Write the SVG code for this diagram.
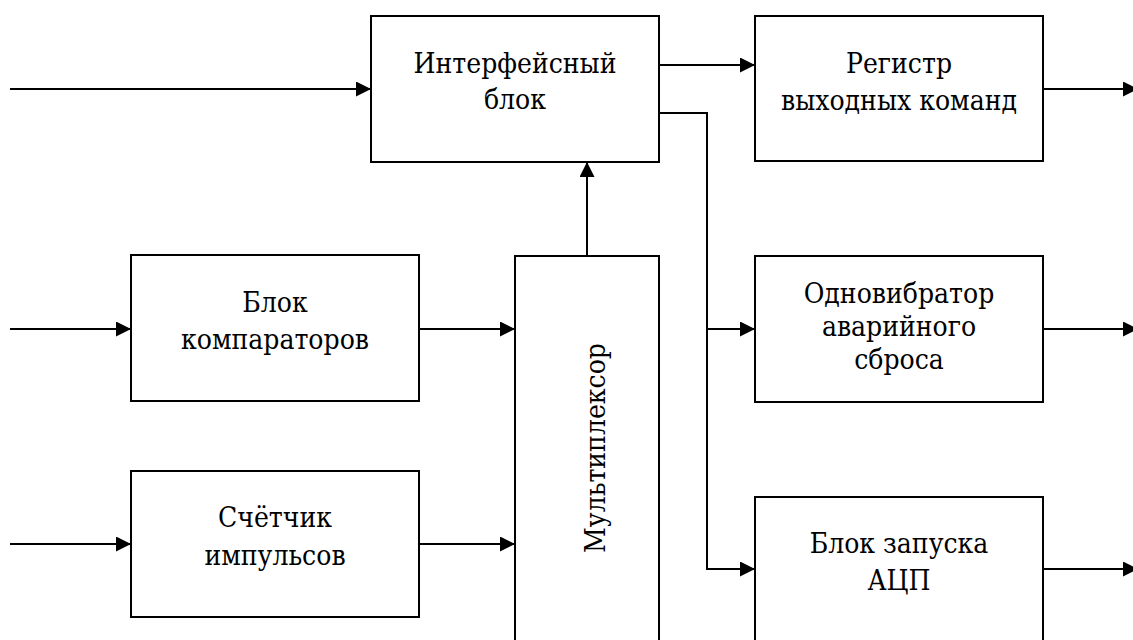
<svg xmlns="http://www.w3.org/2000/svg" width="1133" height="640" viewBox="0 0 1133 640">
<style>
.box{fill:#fff;stroke:#000;stroke-width:2}
.wire{fill:none;stroke:#000;stroke-width:2}
.lbl{font-family:'DejaVu Serif Condensed','DejaVu Serif',serif;font-stretch:condensed;font-size:28px;fill:#000;text-anchor:middle}
</style>
<defs>
<marker id="ah" markerUnits="userSpaceOnUse" markerWidth="15" markerHeight="15" refX="15" refY="7.5" orient="auto">
<path d="M0,0 L15,7.5 L0,15 z" fill="#000"/>
</marker>
</defs>
<rect width="1133" height="640" fill="#fff"/>
<g id="connectors">
<path class="wire" d="M10,89 H371" marker-end="url(#ah)"/>
<path class="wire" d="M659,65 H755" marker-end="url(#ah)"/>
<path class="wire" d="M1043,89 H1138" marker-end="url(#ah)"/>
<path class="wire" d="M659,113 H707 V569 H755" marker-end="url(#ah)"/>
<path class="wire" d="M707,329 H755" marker-end="url(#ah)"/>
<path class="wire" d="M1043,329 H1138" marker-end="url(#ah)"/>
<path class="wire" d="M1043,569 H1138" marker-end="url(#ah)"/>
<path class="wire" d="M10,329 H131" marker-end="url(#ah)"/>
<path class="wire" d="M419,329 H515" marker-end="url(#ah)"/>
<path class="wire" d="M10,544 H131" marker-end="url(#ah)"/>
<path class="wire" d="M419,544 H515" marker-end="url(#ah)"/>
<path class="wire" d="M587,256 V162" marker-end="url(#ah)"/>
</g>
<g id="interface">
<rect class="box" x="371" y="16" width="288" height="146"/>
<text class="lbl" x="515" y="73">Интерфейсный</text>
<text class="lbl" x="515" y="109">блок</text>
</g>
<g id="register">
<rect class="box" x="755" y="16" width="288" height="145"/>
<text class="lbl" x="899" y="73">Регистр</text>
<text class="lbl" x="899" y="110">выходных команд</text>
</g>
<g id="comparators">
<rect class="box" x="131" y="255" width="288" height="146"/>
<text class="lbl" x="275" y="312">Блок</text>
<text class="lbl" x="275" y="349">компараторов</text>
</g>
<g id="counter">
<rect class="box" x="131" y="471" width="288" height="146"/>
<text class="lbl" x="275" y="527">Счётчик</text>
<text class="lbl" x="275" y="565">импульсов</text>
</g>
<g id="multiplexer">
<rect class="box" x="515" y="256" width="144" height="400"/>
<text class="lbl" transform="translate(605,448) rotate(-90)">Мультиплексор</text>
</g>
<g id="oneshot">
<rect class="box" x="755" y="256" width="288" height="146"/>
<text class="lbl" x="899" y="303">Одновибратор</text>
<text class="lbl" x="899" y="336">аварийного</text>
<text class="lbl" x="899" y="369">сброса</text>
</g>
<g id="adc">
<rect class="box" x="755" y="497" width="288" height="160"/>
<text class="lbl" x="899" y="553">Блок запуска</text>
<text class="lbl" x="899" y="590">АЦП</text>
</g>
</svg>
